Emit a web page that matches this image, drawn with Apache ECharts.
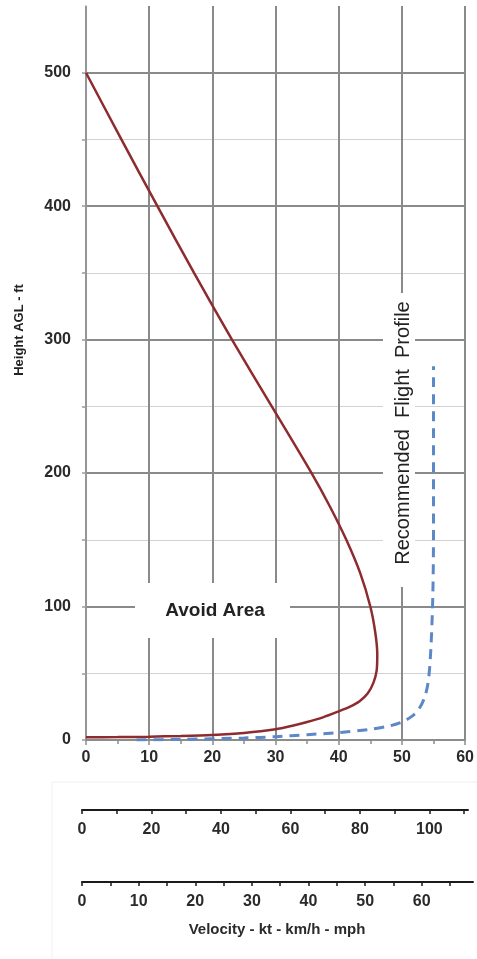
<!DOCTYPE html>
<html>
<head>
<meta charset="utf-8">
<script src="https://cdn.jsdelivr.net/npm/echarts@6/dist/echarts.min.js"></script>
<style>html,body{margin:0;padding:0;background:#fff}#c{width:477px;height:959px}</style>
</head>
<body>
<div id="c"></div>
<script>
// Data (knots vs feet)
const redX = [0, 5.6, 11.3, 17.1, 23.1, 29.4, 35.7, 38.6, 41.2, 43.4, 45.0, 45.8, 46.1, 46.0, 45.5, 44.6, 43.3, 41.8, 40.0, 37.5, 35.0, 32.5, 30.0, 25, 20, 15, 10, 5, 0];
const redY = [500, 450, 400, 350, 300, 250, 200, 175, 150, 125, 100, 80, 64, 52, 43, 35, 29, 25, 21.5, 17, 13.5, 10.5, 8, 5.3, 3.8, 3, 2.5, 2.2, 2];
const blueX = [8, 15, 25, 30, 35, 40, 45, 48, 50, 51.5, 52.6, 53.6, 54.2, 54.6, 54.9, 55, 55];
const blueY = [0, 0.5, 1.5, 2.5, 4, 5.5, 8, 10.5, 13.5, 17.5, 22.5, 32, 45, 70, 110, 160, 280];
const yTickValues = [0, 50, 100, 150, 200, 250, 300, 350, 400, 450, 500];
const yLabelValues = [0, 100, 200, 300, 400, 500];
const ktMax = 60, kmhMax = 111.12, mphMax = 69.05;
const yTitle = 'Height AGL - ft';
const xTitle = 'Velocity - kt - km/h - mph';
const avoidText = 'Avoid Area';
const profileText = 'Recommended  Flight  Profile';

const FONT = '"Liberation Sans", Arial, sans-serif';
const zip = (a, b) => a.map((v, i) => [v, b[i]]);
const labelStyle = { color: '#2a2a2a', fontSize: 16, fontWeight: 'bold', fontFamily: FONT };

const chart = echarts.init(document.getElementById('c'), null, { renderer: 'canvas' });
chart.setOption({
  animation: false,
  backgroundColor: '#fff',
  grid: [
    { left: 86, right: 10, top: 6, bottom: 219 },
    { left: 82, width: 386, top: 810, height: 0 },
    { left: 82, width: 391, top: 882, height: 0 }
  ],
  xAxis: [
    {
      type: 'value', gridIndex: 0, min: 0, max: ktMax, interval: 10,
      axisLine: { lineStyle: { color: '#8c8c8c', width: 2 } },
      axisTick: { show: true, length: 5, lineStyle: { color: '#8c8c8c', width: 1.5 } },
      minorTick: { show: true, splitNumber: 2, length: 4, lineStyle: { color: '#8c8c8c', width: 1.5 } },
      axisLabel: Object.assign({ margin: 10 }, labelStyle),
      splitLine: { show: true, lineStyle: { color: '#8a8a8a', width: 2 } }
    },
    {
      type: 'value', gridIndex: 1, min: 0, max: kmhMax, interval: 10,
      axisLine: { lineStyle: { color: '#1a1a1a', width: 2 } },
      axisTick: { show: true, length: 4, lineStyle: { color: '#1a1a1a', width: 1.5 } },
      axisLabel: Object.assign({ margin: 12, showMaxLabel: false, formatter: v => (Math.round(v) % 20 === 0 ? String(Math.round(v)) : '') }, labelStyle),
      splitLine: { show: false }
    },
    {
      type: 'value', gridIndex: 2, min: 0, max: mphMax, interval: 5,
      axisLine: { lineStyle: { color: '#1a1a1a', width: 2 } },
      axisTick: { show: true, length: 4, lineStyle: { color: '#1a1a1a', width: 1.5 } },
      axisLabel: Object.assign({ margin: 12, showMaxLabel: false, formatter: v => (Math.round(v) % 10 === 0 ? String(Math.round(v)) : '') }, labelStyle),
      splitLine: { show: false }
    }
  ],
  yAxis: [
    {
      type: 'value', gridIndex: 0, min: 0, max: 550, interval: 100,
      axisLine: { show: true, lineStyle: { color: '#9a9a9a', width: 1.5 } },
      axisTick: { show: false },
      axisLabel: Object.assign({ margin: 15, customValues: yLabelValues }, labelStyle),
      splitLine: { show: true, showMaxLine: false, lineStyle: { color: '#8a8a8a', width: 2 } }
    },
    {
      type: 'value', gridIndex: 0, min: 0, max: 550, interval: 50, position: 'left',
      axisLine: { show: false },
      axisTick: { show: true, length: 4, customValues: yTickValues, lineStyle: { color: '#9a9a9a', width: 1.5 } },
      axisLabel: { show: false },
      splitLine: { show: true, showMaxLine: false, lineStyle: { color: ['rgba(0,0,0,0)', '#d2d2d2'], width: 1 } }
    },
    { type: 'value', gridIndex: 1, min: 0, max: 1, show: false },
    { type: 'value', gridIndex: 2, min: 0, max: 1, show: false }
  ],
  series: [
    {
      type: 'line', xAxisIndex: 0, yAxisIndex: 0, data: zip(redX, redY),
      smooth: 0.25, symbol: 'none', z: 5,
      lineStyle: { color: '#8e2b2f', width: 2.5 }
    },
    {
      type: 'line', xAxisIndex: 0, yAxisIndex: 0, data: zip(blueX, blueY),
      smooth: 0.3, symbol: 'none', z: 4,
      lineStyle: { color: '#5c88c8', width: 3, type: [10, 7] }
    }
  ],
  graphic: [
    { type: 'rect', shape: { x: 52, y: 782, width: 430, height: 180 }, style: { fill: 'none', stroke: '#f0f0f0', lineWidth: 1 }, z: 1 },
    { type: 'rect', shape: { x: 135, y: 583, width: 155, height: 55 }, style: { fill: '#fff' }, z: 10 },
    { type: 'text', x: 215, y: 611, z: 11, style: { text: avoidText, align: 'center', verticalAlign: 'middle', fill: '#222', font: 'bold 19px ' + FONT } },
    { type: 'rect', shape: { x: 383, y: 293, width: 32, height: 294 }, style: { fill: '#fff' }, z: 10 },
    { type: 'text', x: 403, y: 433, rotation: Math.PI / 2, z: 11, style: { text: profileText, align: 'center', verticalAlign: 'middle', fill: '#222', font: '20px ' + FONT } },
    { type: 'text', x: 19, y: 330, rotation: Math.PI / 2, z: 11, style: { text: yTitle, align: 'center', verticalAlign: 'middle', fill: '#222', font: 'bold 13px ' + FONT } },
    { type: 'text', x: 277, y: 930, z: 11, style: { text: xTitle, align: 'center', verticalAlign: 'middle', fill: '#2a2a2a', font: 'bold 15px ' + FONT } }
  ]
});
</script>
</body>
</html>
